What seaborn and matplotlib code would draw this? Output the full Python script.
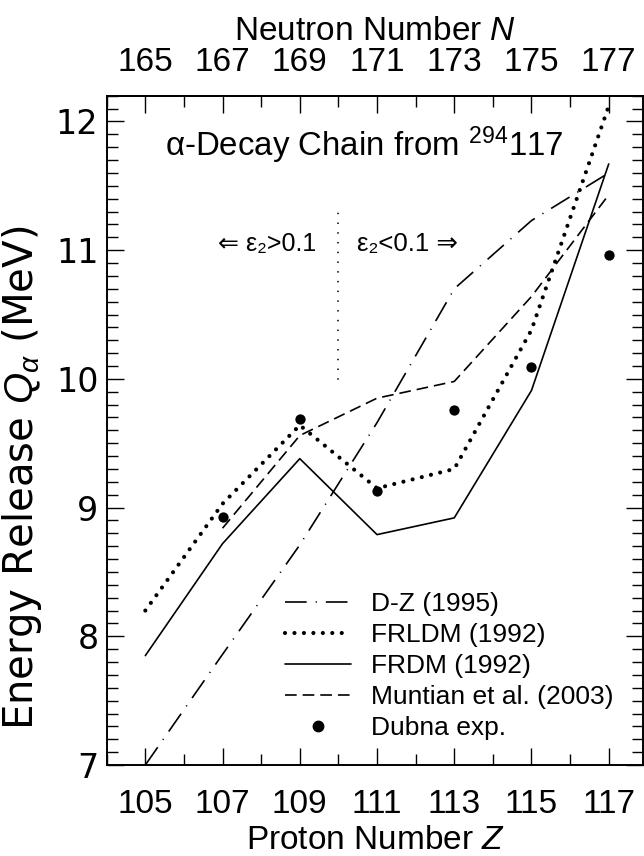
import matplotlib
matplotlib.use("Agg")
import matplotlib.pyplot as plt
import seaborn as sns
import pandas as pd
from matplotlib.ticker import MultipleLocator, FixedLocator
from matplotlib.lines import Line2D

# ---- data ----
Z = [105, 107, 109, 111, 113, 115, 117]
Q_DZ = [7.00, 7.86, 8.71, 9.66, 10.70, 11.23, 11.60]
Q_FRLDM = [8.20, 9.03, 9.64, 9.15, 9.30, 10.38, 12.12]
Q_FRDM = [7.85, 8.72, 9.38, 8.79, 8.92, 9.91, 11.67]
Z_MUNT = [107, 109, 111, 113, 115, 117]
Q_MUNT = [8.84, 9.56, 9.85, 9.98, 10.64, 11.43]
Z_DUBNA = [107, 109, 111, 113, 115, 117]
Q_DUBNA = [8.93, 9.69, 9.13, 9.76, 10.09, 10.96]
N_TICKS = [165, 167, 169, 171, 173, 175, 177]
LABELS = ["D-Z (1995)", "FRLDM (1992)", "FRDM (1992)",
          "Muntian et al. (2003)", "Dubna exp."]

sns.set_theme(style="ticks")
plt.rcParams["font.family"] = ["Liberation Sans", "DejaVu Sans"]
plt.rcParams["mathtext.fontset"] = "custom"
plt.rcParams["mathtext.rm"] = "Liberation Sans"
plt.rcParams["mathtext.it"] = "Liberation Sans:italic"
plt.rcParams["lines.scale_dashes"] = False

fig = plt.figure(figsize=(6.44, 8.56), dpi=100)
ax = fig.add_axes([0.1657, 0.1063, 0.8335, 0.7819])

lw = 1.2
DZ_STYLE = (0, (15.6, 6.5, 0.8, 6.5))
DOT_STYLE = (0, (0.01, 6.8))
DASH_STYLE = (0, (8.4, 4.3))

sns.lineplot(x=Z, y=Q_DZ, ax=ax, color="black", lw=lw,
             linestyle=DZ_STYLE, sort=False)
sns.lineplot(x=Z, y=Q_FRLDM, ax=ax, color="black", lw=3.0,
             linestyle=DOT_STYLE, dash_capstyle="round", sort=False)
sns.lineplot(x=Z, y=Q_FRDM, ax=ax, color="black", lw=lw, sort=False)
sns.lineplot(x=Z_MUNT, y=Q_MUNT, ax=ax, color="black", lw=lw,
             linestyle=DASH_STYLE, sort=False)
sns.scatterplot(x=Z_DUBNA, y=Q_DUBNA, ax=ax, color="black", s=55,
                marker="o", edgecolor="black", linewidth=0, zorder=5)

# vertical dotted separator
ax.plot([110, 110], [10.0, 11.36], color="black", lw=1.3,
        linestyle=(0, (0.01, 7.0)), dash_capstyle="round")

ax.set_xlim(104, 117.9)
ax.set_ylim(7.0, 12.2)

ax.xaxis.set_major_locator(FixedLocator(Z))
ax.xaxis.set_minor_locator(MultipleLocator(1))
ax.yaxis.set_major_locator(MultipleLocator(1))
ax.yaxis.set_minor_locator(MultipleLocator(0.1))
ax.tick_params(which="both", direction="in", top=False, right=True,
               width=1.0, labelsize=24, color="black", labelcolor="black")
ax.tick_params(which="major", length=12)
ax.tick_params(which="minor", length=8)
ax.tick_params(axis="x", pad=17)
ax.tick_params(axis="y", pad=6)
for lab in ax.get_yticklabels():
    lab.set_family("DejaVu Sans")
    lab.set_fontsize(24)

for sp in ax.spines.values():
    sp.set_linewidth(1.4)
    sp.set_color("black")
    sp.set_visible(True)

secax = ax.secondary_xaxis("top", functions=(lambda z: z + 60, lambda n: n - 60))
secax.xaxis.set_major_locator(FixedLocator(N_TICKS))
secax.xaxis.set_minor_locator(MultipleLocator(1))
secax.tick_params(which="both", direction="in", width=1.0, labelsize=24,
                  pad=13, color="black", labelcolor="black")
secax.tick_params(which="major", length=12)
secax.tick_params(which="minor", length=8)
secax.spines["top"].set_linewidth(1.4)
secax.set_xlabel("Neutron Number $N$", fontsize=24, labelpad=5, color="black")

ax.set_xlabel("Proton Number $Z$", fontsize=24, labelpad=4, color="black")
ax.set_ylabel(r"Energy Release $Q_{\alpha}$ (MeV)", fontsize=29,
              family="DejaVu Sans", color="black")
ax.yaxis.set_label_coords(-0.117, 0.429)

ax.text(105.5, 11.73, r"α-Decay Chain from $^{\mathrm{294}}$117", fontsize=23.8,
        ha="left", va="baseline", color="black")
ax.text(109.43, 10.99, "⇐ ε₂>0.1", fontsize=18, ha="right", va="baseline",
        color="black")
ax.text(110.47, 10.99, "ε₂<0.1 ⇒", fontsize=18.5, ha="left", va="baseline",
        color="black")

handles = [
    Line2D([], [], color="black", lw=lw, linestyle=DZ_STYLE),
    Line2D([], [], color="black", lw=3.0, linestyle=DOT_STYLE,
           dash_capstyle="round"),
    Line2D([], [], color="black", lw=lw),
    Line2D([], [], color="black", lw=lw, linestyle=DASH_STYLE),
    Line2D([], [], color="black", lw=0, marker="o", markersize=7.5),
]
leg = ax.legend(handles, LABELS, loc="upper left", frameon=False,
                fontsize=19, handlelength=2.5, handletextpad=0.75,
                labelspacing=0.27, borderpad=0, borderaxespad=0,
                bbox_to_anchor=(285 / 644, 1 - 592 / 856),
                bbox_transform=fig.transFigure)
for t in leg.get_texts():
    t.set_color("black")

fig.savefig("out.png", dpi=100)
